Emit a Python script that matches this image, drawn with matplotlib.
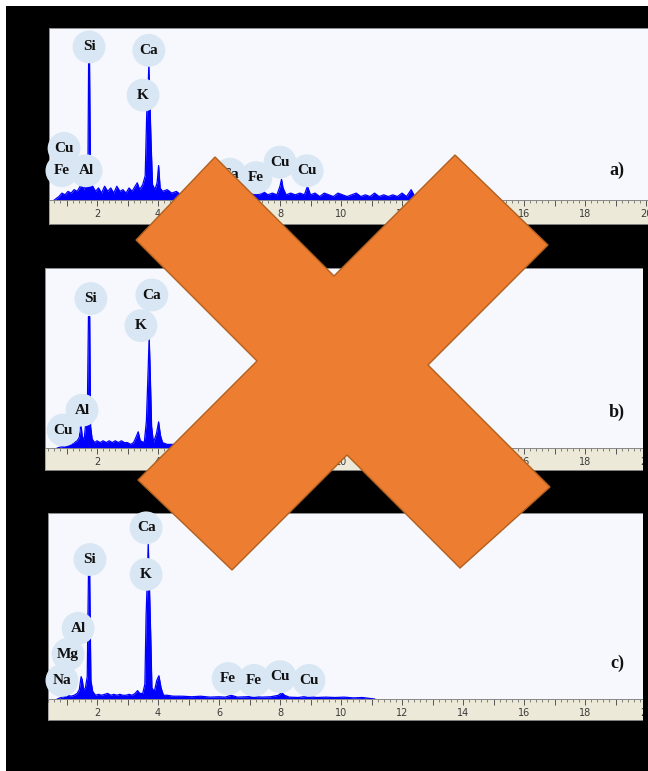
import matplotlib
matplotlib.use('Agg')
import matplotlib.pyplot as plt
from matplotlib.patches import Polygon, Rectangle
from matplotlib.ticker import MultipleLocator, FuncFormatter

W, H = 648, 771

# ---- spectrum a) ----
energy_a = [0.6, 0.75, 0.85, 0.95, 1.05, 1.15, 1.25, 1.35, 1.45, 1.5, 1.56, 1.64, 1.70,
            1.725, 1.755, 1.79, 1.86, 1.95, 2.05, 2.15, 2.25, 2.35, 2.45, 2.55, 2.65, 2.75, 2.85,
            2.95, 3.05, 3.15, 3.25, 3.32, 3.4, 3.5, 3.58, 3.63, 3.67, 3.70, 3.73, 3.77, 3.82, 3.9,
            3.97, 4.02, 4.07, 4.15, 4.3, 4.45, 4.6, 4.75, 4.9, 5.05, 5.2, 5.35, 5.5, 5.65, 5.8,
            5.95, 6.1, 6.25, 6.4, 6.55, 6.7, 6.85, 7.0, 7.15, 7.3, 7.45, 7.6, 7.75, 7.9, 8.0, 8.05,
            8.1, 8.2, 8.35, 8.5, 8.65, 8.8, 8.9, 9.0, 9.15, 9.3, 9.45, 9.6, 9.75, 9.9, 10.05, 10.2,
            10.35, 10.5, 10.65, 10.8, 10.95, 11.1, 11.25, 11.4, 11.55, 11.7, 11.85, 12.0, 12.15,
            12.3, 12.45, 12.6]
counts_a = [0.0, 0.02, 0.04, 0.03, 0.05, 0.04, 0.06, 0.05, 0.08, 0.10, 0.06, 0.09, 0.10,
            0.80, 0.80, 0.10, 0.08, 0.05, 0.07, 0.04, 0.08, 0.05, 0.07, 0.04, 0.08, 0.05, 0.06,
            0.04, 0.07, 0.05, 0.08, 0.10, 0.06, 0.09, 0.14, 0.50, 0.62, 0.79, 0.60, 0.35, 0.09, 0.06,
            0.10, 0.20, 0.07, 0.05, 0.06, 0.04, 0.05, 0.03, 0.05, 0.04, 0.05, 0.03, 0.04, 0.03, 0.05,
            0.03, 0.04, 0.03, 0.06, 0.04, 0.03, 0.05, 0.03, 0.04, 0.03, 0.05, 0.03, 0.04, 0.03, 0.08, 0.12,
            0.07, 0.03, 0.04, 0.03, 0.04, 0.03, 0.08, 0.03, 0.04, 0.02, 0.04, 0.03, 0.02, 0.04, 0.03, 0.02,
            0.03, 0.04, 0.02, 0.03, 0.02, 0.04, 0.02, 0.03, 0.02, 0.03, 0.02, 0.04, 0.02,
            0.06, 0.01, 0.0]
labels_a = ['Si', 'Ca', 'K', 'Cu', 'Fe', 'Al', 'Ca', 'Fe', 'Cu', 'Cu']
label_x_a = [1.74, 3.70, 3.51, 0.92, 0.85, 1.64, 6.36, 7.21, 8.0, 8.89]
label_y_a = [0.89, 0.87, 0.61, 0.30, 0.17, 0.17, 0.15, 0.13, 0.22, 0.17]

# ---- spectrum b) ----
energy_b = [0.7, 0.9, 1.1, 1.25, 1.35, 1.42, 1.47, 1.52, 1.58, 1.63, 1.68, 1.72, 1.76, 1.79,
            1.84, 1.92, 2.0, 2.1, 2.2, 2.3, 2.4, 2.5, 2.6, 2.7, 2.8, 2.9, 3.0, 3.1, 3.2, 3.28, 3.35,
            3.42, 3.55, 3.62, 3.68, 3.71, 3.74, 3.79, 3.85, 3.95, 4.02, 4.08, 4.15, 4.3, 5.0, 5.8,
            6.4, 7.0, 8.05, 8.9, 9.8, 10.8, 11.2]
counts_b = [0.0, 0.01, 0.02, 0.03, 0.04, 0.06, 0.14, 0.06, 0.05, 0.14, 0.16, 0.73, 0.73, 0.12,
            0.05, 0.03, 0.04, 0.03, 0.04, 0.03, 0.04, 0.03, 0.04, 0.03, 0.04, 0.03, 0.03, 0.02, 0.03, 0.06, 0.09,
            0.04, 0.03, 0.15, 0.45, 0.62, 0.45, 0.12, 0.03, 0.08, 0.145, 0.07, 0.03, 0.02, 0.02, 0.01,
            0.02, 0.01, 0.03, 0.015, 0.01, 0.005, 0.0]
labels_b = ['Si', 'Ca', 'K', 'Al', 'Cu']
label_x_b = [1.80, 3.80, 3.44, 1.51, 0.89]
label_y_b = [0.83, 0.85, 0.68, 0.21, 0.10]

# ---- spectrum c) ----
energy_c = [0.7, 0.85, 1.04, 1.15, 1.25, 1.35, 1.42, 1.48, 1.52, 1.56, 1.62, 1.68, 1.72, 1.76,
            1.80, 1.86, 1.95, 2.05, 2.15, 2.25, 2.35, 2.45, 2.55, 2.65, 2.75, 2.85, 2.95, 3.05, 3.15,
            3.25, 3.33, 3.4, 3.5, 3.57, 3.61, 3.64, 3.68, 3.72, 3.76, 3.80, 3.88, 3.96, 4.03, 4.1,
            4.18, 4.3, 4.5, 4.8, 5.1, 5.4, 5.7, 6.0, 6.2, 6.4, 6.6, 6.9, 7.1, 7.4, 7.7, 7.95, 8.05,
            8.15, 8.3, 8.6, 8.9, 9.2, 9.5, 9.8, 10.1, 10.4, 10.7, 10.9, 11.1]
counts_c = [0.0, 0.01, 0.02, 0.015, 0.02, 0.03, 0.05, 0.12, 0.10, 0.05, 0.06, 0.12, 0.67, 0.67,
            0.10, 0.04, 0.02, 0.025, 0.02, 0.025, 0.03, 0.02, 0.025, 0.02, 0.025, 0.02, 0.02, 0.025, 0.02,
            0.03, 0.045, 0.03, 0.03, 0.08, 0.45, 0.60, 0.84, 0.60, 0.35, 0.06, 0.04, 0.10, 0.125, 0.06,
            0.02, 0.02, 0.015, 0.015, 0.012, 0.015, 0.01, 0.012, 0.01, 0.02, 0.01, 0.012, 0.015, 0.01, 0.012, 0.02, 0.035,
            0.02, 0.01, 0.008, 0.015, 0.008, 0.01, 0.008, 0.01, 0.006, 0.008, 0.004, 0.0]
labels_c = ['Ca', 'Si', 'K', 'Al', 'Mg', 'Na', 'Fe', 'Fe', 'Cu', 'Cu']
label_x_c = [3.61, 1.77, 3.61, 1.38, 1.05, 0.85, 6.30, 7.15, 8.0, 8.95]
label_y_c = [0.92, 0.75, 0.67, 0.38, 0.24, 0.10, 0.11, 0.10, 0.12, 0.10]

panel_tags = ['a)', 'b)', 'c)']
tag_y = [0.17, 0.20, 0.19]

# panel layout in pixels: left, top of plot, axis line, bottom of tick strip
PANELS = [(49, 28, 200, 224), (45, 268, 448, 470), (48, 513, 699, 720)]
PX_PER_KEV, PX_ZERO, RIGHT_PX = 30.5, 36, 668

BLUE = '#0000ff'
PLOT_BG = '#f7f8fd'
STRIP_BG = '#ece9d8'
BUBBLE = '#d9e7f4'


def fig_box(l, t, r, b):
    return [l / W, 1 - b / H, (r - l) / W, (b - t) / H]


def even_only(v, pos):
    i = int(round(v))
    return str(i) if i % 2 == 0 and i > 0 else ''


fig = plt.figure(figsize=(W / 100, H / 100), dpi=100, facecolor='white')
fig.add_artist(Rectangle((6 / W, 0), 1, 1 - 6 / H, transform=fig.transFigure,
                         facecolor='black', edgecolor='none', zorder=-10))

data = [(energy_a, counts_a, labels_a, label_x_a, label_y_a),
        (energy_b, counts_b, labels_b, label_x_b, label_y_b),
        (energy_c, counts_c, labels_c, label_x_c, label_y_c)]

for (left, top, axis_y, bottom), (ex, cy, labs, lx, ly), tag, ty in zip(PANELS, data, panel_tags, tag_y):
    strip = fig.add_axes(fig_box(left, axis_y, RIGHT_PX, bottom))
    strip.set_facecolor(STRIP_BG)
    strip.set_xticks([])
    strip.set_yticks([])
    for s in strip.spines.values():
        s.set_color('#9a9a9a')
        s.set_linewidth(0.6)
    strip.set_zorder(0)

    ax = fig.add_axes(fig_box(left, top, RIGHT_PX, axis_y))
    ax.set_zorder(1)
    ax.set_facecolor(PLOT_BG)
    ax.set_xlim((left - PX_ZERO) / PX_PER_KEV, (RIGHT_PX - PX_ZERO) / PX_PER_KEV)
    ax.set_ylim(0, 1)
    ax.fill_between(ex, 0, cy, color=BLUE, lw=0, zorder=2)
    ax.plot(ex, cy, color=BLUE, lw=0.9, zorder=2)

    ax.scatter(lx, ly, s=560, color=BUBBLE, edgecolors='none', zorder=3, clip_on=False)
    for name, x, y in zip(labs, lx, ly):
        ax.text(x, y, name, ha='center', va='center', fontsize=11, fontweight='bold',
                family='Liberation Serif', color='#111111', zorder=4)
    ax.text(19.05, ty, tag, ha='center', va='center', fontsize=13, fontweight='bold',
            family='Liberation Serif', color='#111111', zorder=4)

    ax.xaxis.set_major_locator(MultipleLocator(1))
    ax.xaxis.set_minor_locator(MultipleLocator(0.2))
    ax.xaxis.set_major_formatter(FuncFormatter(even_only))
    ax.tick_params(axis='x', which='major', direction='out', length=4, width=0.7,
                   color='#555555', labelsize=7, labelcolor='#3a3a3a', pad=2.5)
    ax.tick_params(axis='x', which='minor', direction='out', length=2, width=0.5, color='#555555')
    ax.set_yticks([])
    for s in ax.spines.values():
        s.set_color('#8a8a8a')
        s.set_linewidth(0.7)

# black edge at the right of the lower panels
for (left, top, axis_y, bottom) in PANELS[1:]:
    fig.add_artist(Rectangle((643 / W, 1 - (bottom + 2) / H), 10 / W, (bottom + 2 - top + 2) / H,
                             transform=fig.transFigure, facecolor='black', edgecolor='none', zorder=20))

# orange cross overlay
cross_px = [(215, 157), (334, 276), (455, 155), (548, 245), (428, 365), (550, 487),
            (460, 568), (347, 455), (232, 570), (138, 480), (257, 361), (136, 240)]
cross = Polygon([(x / W, 1 - y / H) for x, y in cross_px], closed=True, transform=fig.transFigure,
                facecolor='#ed7d31', edgecolor='#b0601f', lw=1.0, zorder=30)
fig.add_artist(cross)

fig.savefig('out.png', dpi=100, facecolor=fig.get_facecolor())
